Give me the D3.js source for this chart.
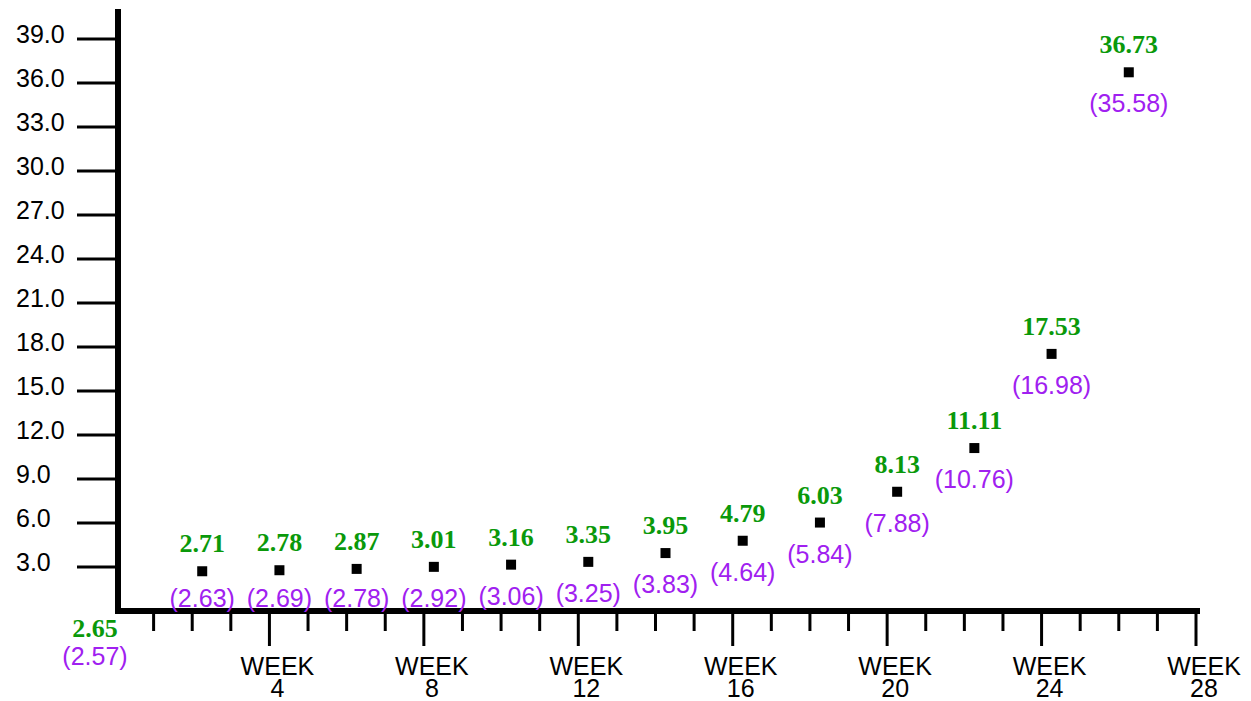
<!DOCTYPE html>
<html><head><meta charset="utf-8">
<script src="https://cdn.jsdelivr.net/npm/d3@7"></script>
<style>body{margin:0;background:#fff}svg{display:block}</style>
</head><body>
<svg id="c" width="1251" height="701"></svg>
<script>
const weeks = [0,2,4,6,8,10,12,14,16,18,20,22,24,26];
const mainValues = [2.65,2.71,2.78,2.87,3.01,3.16,3.35,3.95,4.79,6.03,8.13,11.11,17.53,36.73];
const altValues = [2.57,2.63,2.69,2.78,2.92,3.06,3.25,3.83,4.64,5.84,7.88,10.76,16.98,35.58];
const yTicks = [3,6,9,12,15,18,21,24,27,30,33,36,39];
const weekTicks = d3.range(1,29);
const majorWeeks = [4,8,12,16,20,24,28];

const svg = d3.select('#c');
const x = d3.scaleLinear().domain([0,28]).range([115,1196]);
const y = d3.scaleLinear().domain([3,39]).range([567,39]);
const axisY = 611, axisX = 118;
const GREEN = '#0a990a', PURPLE = '#a020f0';
const SANS = 'Liberation Sans, Arial, sans-serif';
const SERIF = 'Liberation Serif, Times New Roman, serif';

// y ticks
svg.selectAll('line.yt').data(yTicks).join('line')
  .attr('x1',77).attr('x2',axisX).attr('y1',d=>y(d)).attr('y2',d=>y(d))
  .attr('stroke','#000').attr('stroke-width',3);
svg.selectAll('text.yl').data(yTicks).join('text')
  .attr('x',16).attr('y',d=>y(d)+4)
  .attr('font-family',SANS).attr('font-size',25)
  .attr('fill','#000').text(d=>d.toFixed(1));

// x ticks
svg.selectAll('line.xt').data(weekTicks).join('line')
  .attr('x1',d=>x(d)).attr('x2',d=>x(d)).attr('y1',axisY)
  .attr('y2',d=>majorWeeks.includes(d)?646:631)
  .attr('stroke','#000').attr('stroke-width',3);
const wl = svg.selectAll('text.xl').data(majorWeeks).join('text')
  .attr('text-anchor','middle')
  .attr('font-family',SANS).attr('font-size',25).attr('fill','#000');
wl.append('tspan').attr('x',d=>x(d)+8).attr('y',675).text('WEEK');
wl.append('tspan').attr('x',d=>x(d)+8).attr('y',697).text(d=>d);

// axes lines
svg.append('line').attr('x1',axisX).attr('x2',axisX).attr('y1',9).attr('y2',axisY+3)
  .attr('stroke','#000').attr('stroke-width',6);
svg.append('line').attr('x1',axisX-3).attr('x2',1200).attr('y1',axisY).attr('y2',axisY)
  .attr('stroke','#000').attr('stroke-width',6);

const data = weeks.map((w,i)=>({w, v:mainValues[i], a:altValues[i]}));
const plotted = data.filter(d=>d.w>0);
const first = data[0];

svg.selectAll('rect.pt').data(plotted).join('rect')
  .attr('x',d=>x(d.w)+10-5).attr('y',d=>y(d.v)-5).attr('width',10).attr('height',10).attr('fill','#000');

svg.selectAll('text.gl').data(plotted).join('text')
  .attr('x',d=>x(d.w)+10).attr('y',d=>y(d.v)-19).attr('text-anchor','middle')
  .attr('font-family',SERIF).attr('font-weight','bold')
  .attr('font-size',26).attr('fill',GREEN).text(d=>d.v.toFixed(2));
svg.selectAll('text.pl').data(plotted).join('text')
  .attr('x',d=>x(d.w)+10).attr('y',d=>Math.min(y(d.v)+40,607)).attr('text-anchor','middle')
  .attr('font-family',SANS)
  .attr('font-size',25).attr('fill',PURPLE).text(d=>'('+d.a.toFixed(2)+')');

// week 0 labels below axis
svg.append('text').attr('x',x(first.w)-20).attr('y',637).attr('text-anchor','middle')
  .attr('font-family',SERIF).attr('font-weight','bold')
  .attr('font-size',26).attr('fill',GREEN).text(first.v.toFixed(2));
svg.append('text').attr('x',x(first.w)-20).attr('y',665).attr('text-anchor','middle')
  .attr('font-family',SANS)
  .attr('font-size',25).attr('fill',PURPLE).text('('+first.a.toFixed(2)+')');
</script>
</body></html>
